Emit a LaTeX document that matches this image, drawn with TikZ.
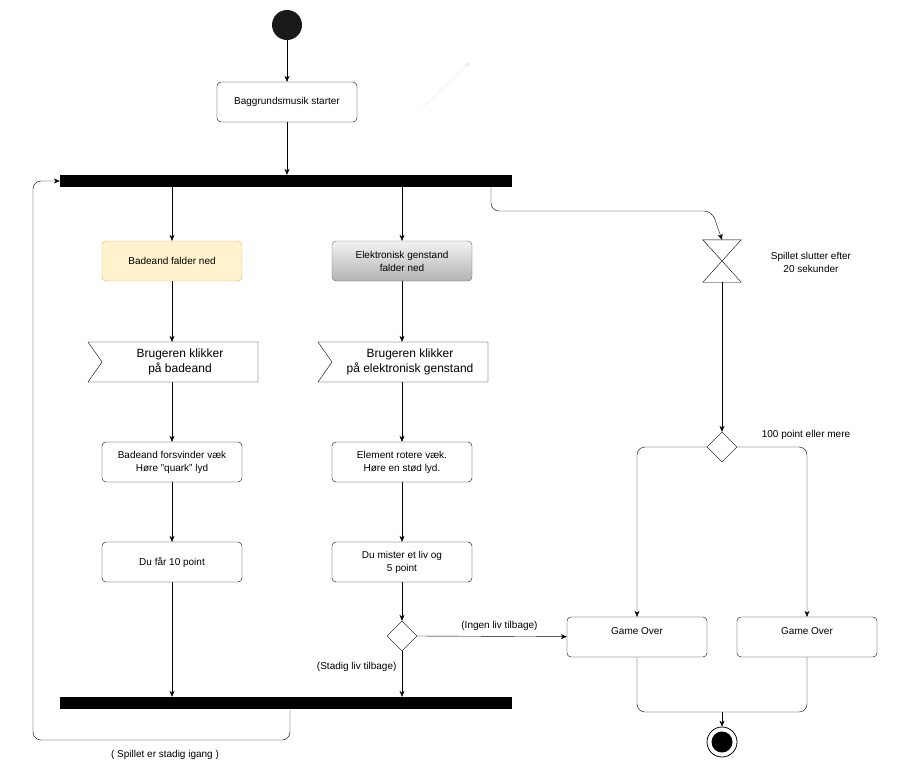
\documentclass[tikz,border=0pt]{standalone}
\usepackage{fontspec}
\setmainfont{Liberation Sans}
\usetikzlibrary{positioning,calc,arrows.meta,shapes.geometric,shapes.symbols}
\definecolor{duckfill}{HTML}{FFF2CC}
\definecolor{duckdraw}{HTML}{D6B656}
\begin{document}
\begin{tikzpicture}[x=1pt,y=-1pt,
		act/.style={draw,rounded corners=4pt,minimum width=140pt,minimum height=40pt,align=center,font=\fontsize{10}{13}\selectfont},
		accept/.style={draw,shape=signal,signal from=west,signal to=nowhere,signal pointer angle=110,minimum width=170pt,minimum height=40pt,align=center,font=\fontsize{12}{15}\selectfont,inner sep=0pt},
		bar/.style={fill=black,minimum width=452pt,minimum height=12pt,inner sep=0pt},
		choice/.style={draw,diamond,minimum width=30pt,minimum height=30pt,inner sep=0pt},
		lbl/.style={font=\fontsize{10}{13}\selectfont,align=center},
		flow/.style={-{Stealth[length=6pt,width=5pt]},rounded corners=8pt}
	]
	\useasboundingbox (0,0) rectangle (906,780);
	
	%start
	\node(start) [circle,fill=black!90,minimum size=30pt,inner sep=0pt] at (287,25) {};
	\node(music) [act] at (287,102) {Baggrundsmusik starter};
	\node(fork) [bar] at (286,181) {};
	\draw [flow] (start) -- (music);
	\draw [flow] (music) -- (music|-fork.north);
	
	%left column
	\node(duck) [act,fill=duckfill,draw=duckdraw] at (172,261) {Badeand falder ned};
	\node(clickduck) [accept] at (180,362) {Brugeren klikker\\på badeand};
	\node(quack) [act] at (172,462) {Badeand forsvinder væk\\Høre "quark" lyd};
	\node(plus) [act] at (172,562) {Du får 10 point};
	
	%middle column
	\node(elec) [act,draw=black!60,top color=black!5,bottom color=black!30] at (402,261) {Elektronisk genstand\\falder ned};
	\node(clickelec) [accept] at (410,362) {Brugeren klikker\\på elektronisk genstand};
	\node(rotate) [act] at (402,462) {Element rotere væk.\\Høre en stød lyd.};
	\node(minus) [act] at (402,562) {Du mister et liv og\\5 point};
	\node(lives) [choice] at (402,636) {};
	\node(join) [bar] at (286,703) {};
	
	\draw [flow] (duck|-fork.south) -- (duck);
	\draw [flow] (duck.south) -- (duck.south|-clickduck.north);
	\draw [flow] (duck.south|-clickduck.south) -- (quack);
	\draw [flow] (quack) -- (plus);
	\draw [flow] (plus) -- (plus|-join.north);
	\draw [flow] (elec|-fork.south) -- (elec);
	\draw [flow] (elec.south) -- (elec.south|-clickelec.north);
	\draw [flow] (elec.south|-clickelec.south) -- (rotate);
	\draw [flow] (rotate) -- (minus);
	\draw [flow] (minus) -- (lives);
	\draw [flow] (lives) -- node[lbl,left=2pt,pos=.35]{(Stadig liv tilbage)} (lives|-join.north);
	
	%right column
	\node(timer) [minimum width=38pt,minimum height=42pt,inner sep=0pt] at (722,261) {};
	\draw (timer.north west) -- (timer.north east) -- (timer.south west) -- (timer.south east) -- cycle;
	\node(timerlbl) [lbl] at (811,262) {Spillet slutter efter\\20 sekunder};
	\node(points) [choice] at (722,447) {};
	\node(pointslbl) [lbl] at (806,435) {100 point eller mere};
	\node(over1) [act,text depth=12pt] at (637,637) {Game Over};
	\node(over2) [act,text depth=12pt] at (807,637) {Game Over};
	\node(stop) [circle,draw,line width=.8pt,minimum size=30pt,inner sep=0pt] at (722,742) {};
	\node(stopdot) [circle,fill=black,minimum size=21pt,inner sep=0pt] at (722,742) {};
	
	\draw [flow] (491,187) |- (712,211) -- (timer.north);
	\draw [flow] (timer.south) -- (points);
	\draw [flow] (points.west) -| (over1);
	\draw [flow] (points.east) -| (over2);
	\draw [flow] (lives.east) -- node[lbl,above=2pt,pos=.55]{(Ingen liv tilbage)} (over1);
	\coordinate(merge) at (722,712);
	\draw [rounded corners=8pt] (over1) |- (merge);
	\draw [rounded corners=8pt] (over2) |- (merge);
	\draw [flow] (merge) -- (stop);
	
	%loop back
	\draw [flow] (290,710) |- (33,740) |- (fork.west);
	\node(looplbl) [lbl] at (165,755) {( Spillet er stadig igang )};
	
	\coordinate(strayA) at (422,108);
	\coordinate(strayB) at (470,62);
	\draw [flow,draw=black!8] (strayA) -- (strayB);
\end{tikzpicture}
\end{document}
